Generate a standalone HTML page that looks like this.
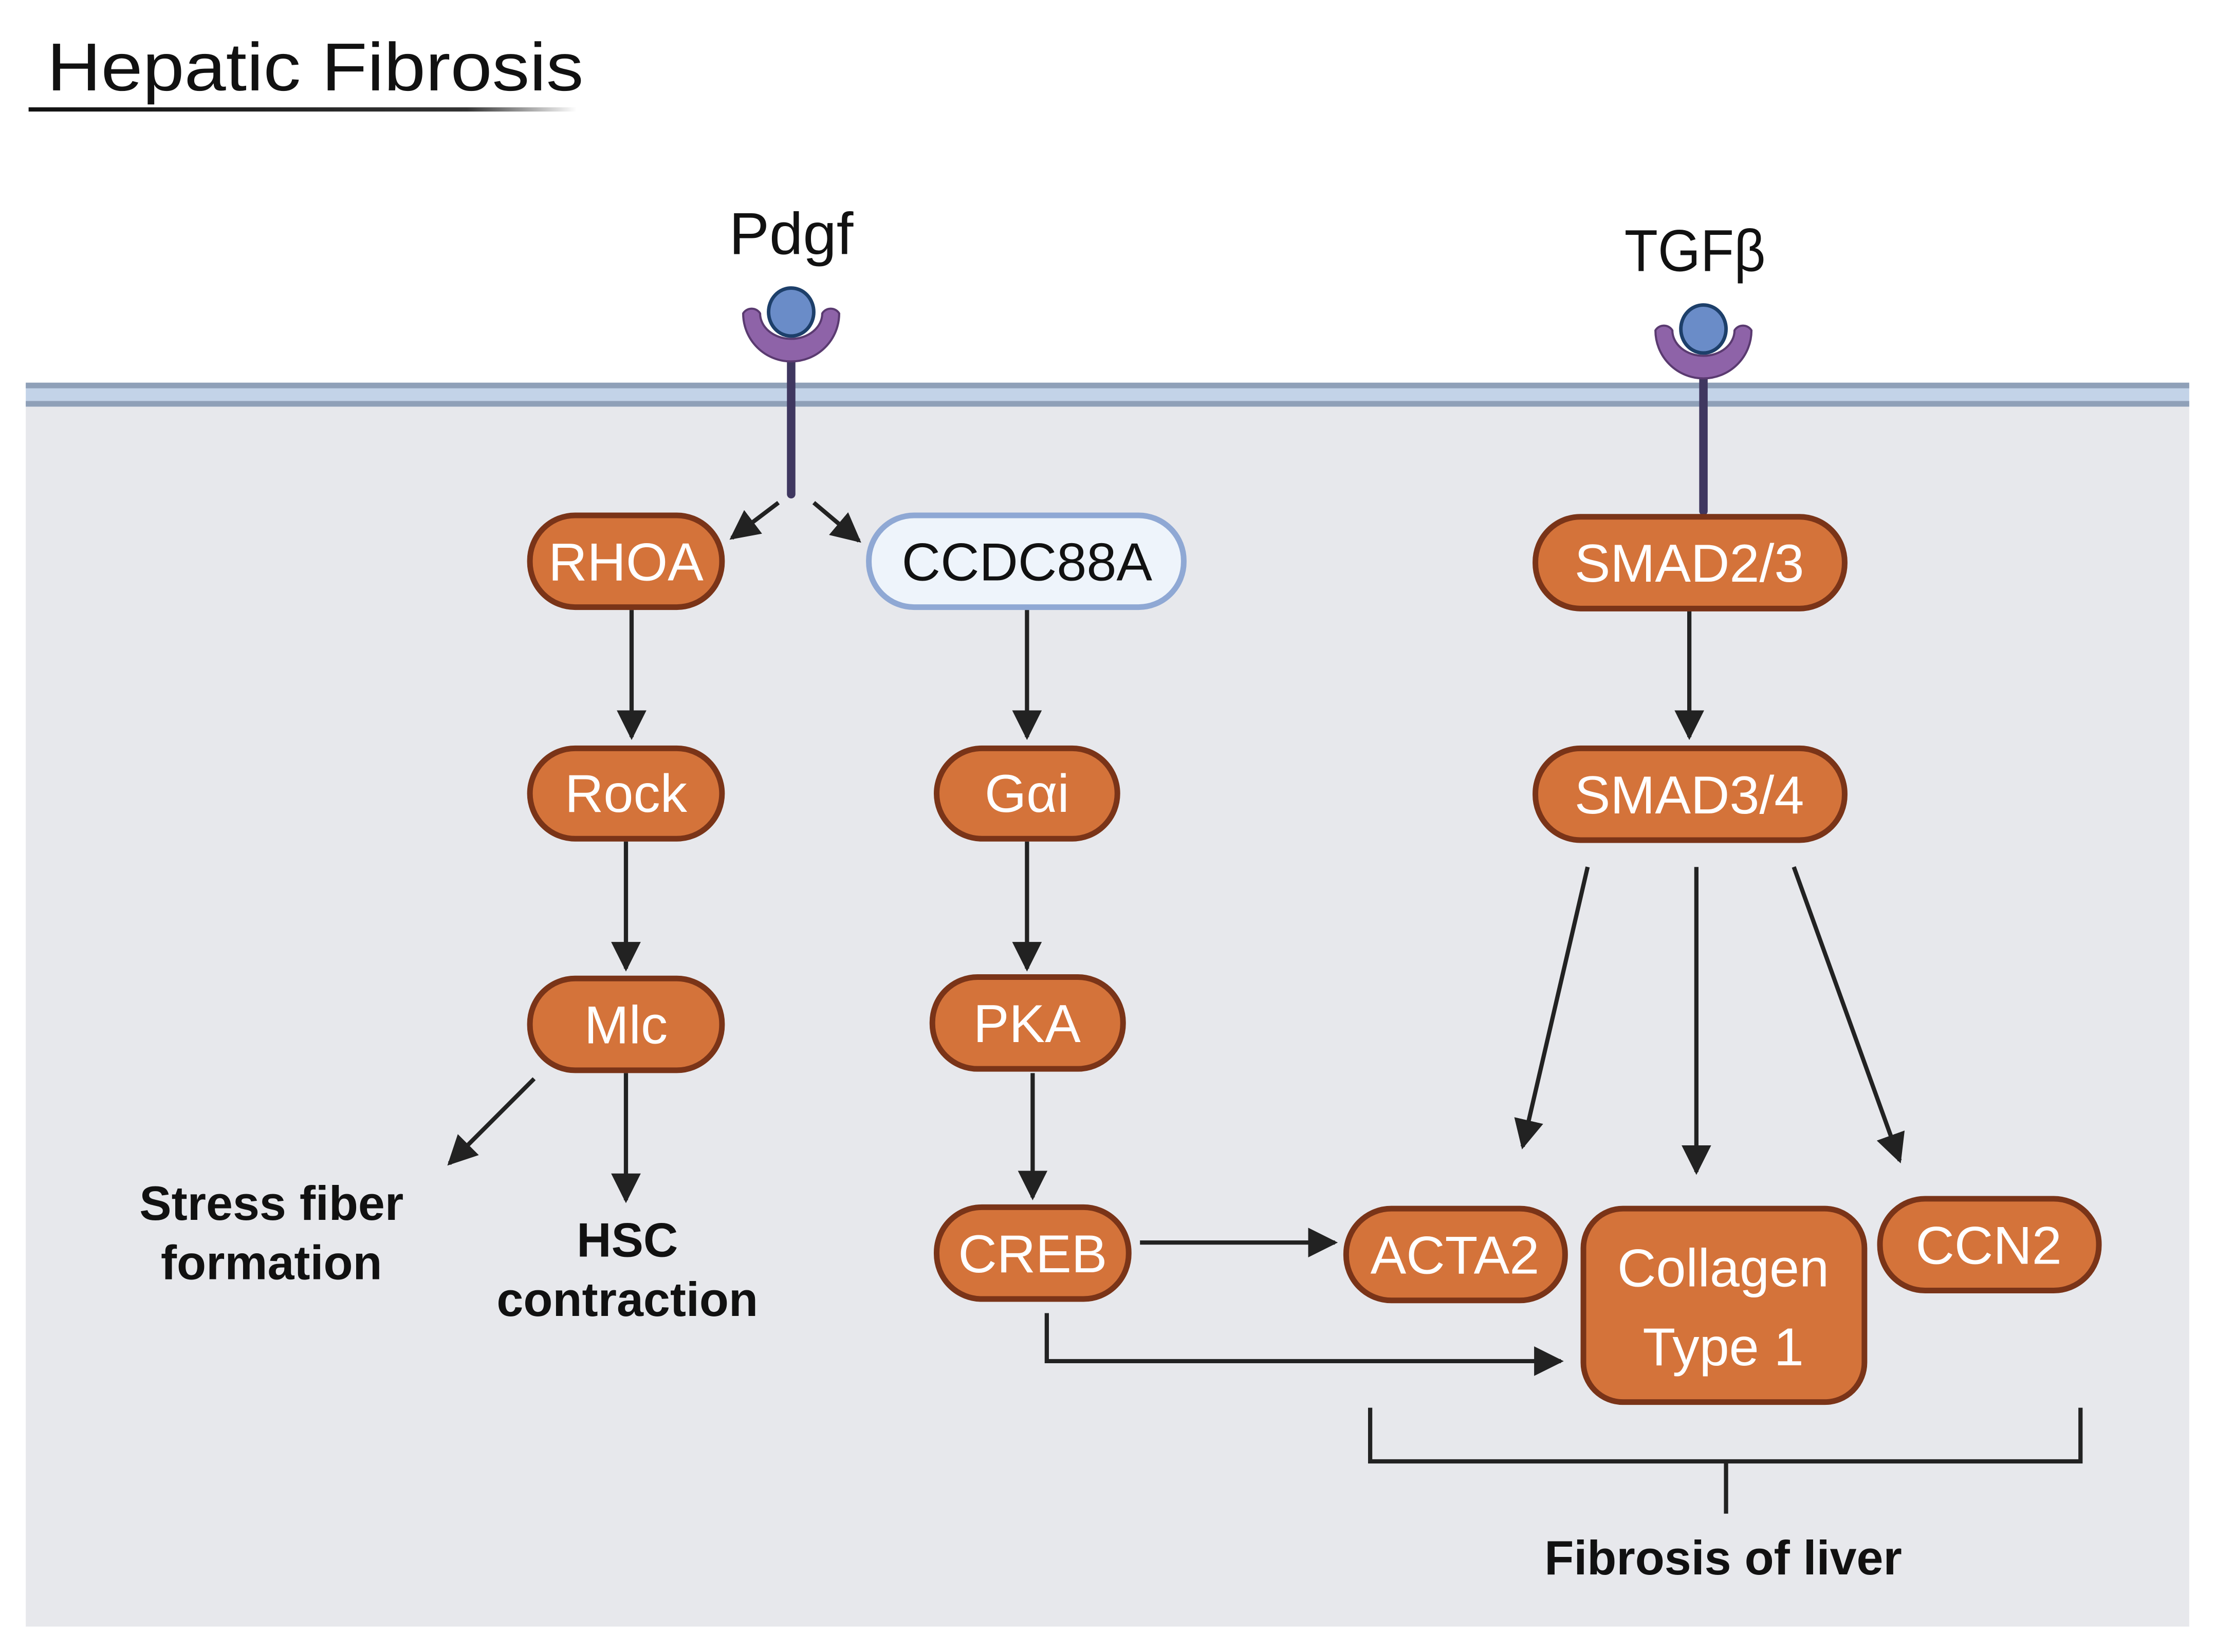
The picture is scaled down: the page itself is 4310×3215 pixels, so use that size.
<!DOCTYPE html>
<html><head><meta charset="utf-8"><style>html,body{margin:0;padding:0;background:#fff}svg{display:block}</style></head><body>
<svg width="4310" height="3215" viewBox="0 0 1568 1170" xmlns="http://www.w3.org/2000/svg" font-family="Liberation Sans, sans-serif">
<defs>
<marker id="b" viewBox="0 0 10 10" refX="9" refY="5" markerWidth="7" markerHeight="7" orient="auto"><path d="M0,0 L10,5 L0,10 z" fill="#222"/></marker>
<linearGradient id="g" x1="0" x2="1"><stop offset="0" stop-color="#111"/><stop offset="0.8" stop-color="#333"/><stop offset="1" stop-color="#fff"/></linearGradient>
</defs>
<rect width="1568" height="1170" fill="#fff"/>
<rect x="18" y="285" width="1532" height="867" fill="#e7e8ec"/>
<rect x="18" y="272" width="1532" height="16" fill="#c3d3e8"/>
<rect x="18" y="271" width="1532" height="4" fill="#8fa0b8"/>
<rect x="18" y="284" width="1532" height="4" fill="#8fa0b8"/>
<text x="33" y="64" font-size="48" fill="#111" textLength="380" lengthAdjust="spacingAndGlyphs">Hepatic Fibrosis</text>
<rect x="20" y="76" width="388" height="3" fill="url(#g)"/>
<text x="560" y="180" font-size="42" text-anchor="middle" fill="#111" textLength="88" lengthAdjust="spacingAndGlyphs">Pdgf</text>
<text x="1200" y="192" font-size="42" text-anchor="middle" fill="#111" textLength="100" lengthAdjust="spacingAndGlyphs">TGFβ</text>
<g stroke="#3f3760" stroke-width="6" stroke-linecap="round"><line x1="560" y1="255" x2="560" y2="350"/><line x1="1206" y1="265" x2="1206" y2="362"/></g>
<g fill="#8e63a8" stroke="#5a3a70" stroke-width="1.5">
<path d="M526,222 a7,7 0 0 1 12,0 a22,18 0 0 0 44,0 a7,7 0 0 1 12,0 a34,34 0 0 1 -68,0 z"/>
<path d="M1172,234 a7,7 0 0 1 12,0 a22,18 0 0 0 44,0 a7,7 0 0 1 12,0 a34,34 0 0 1 -68,0 z"/>
</g>
<g fill="#6a8cc8" stroke="#1d3f6a" stroke-width="2.5"><ellipse cx="560" cy="221" rx="16" ry="17"/><ellipse cx="1206" cy="233" rx="16" ry="17"/></g>
<g stroke="#222" stroke-width="3" fill="none" marker-end="url(#b)">
<line x1="551" y1="356" x2="518" y2="381"/>
<line x1="576" y1="356" x2="608" y2="383"/>
<line x1="447" y1="432" x2="447" y2="522"/>
<line x1="727" y1="432" x2="727" y2="522"/>
<line x1="443" y1="596" x2="443" y2="686"/>
<line x1="727" y1="596" x2="727" y2="686"/>
<line x1="378" y1="764" x2="318" y2="824"/>
<line x1="443" y1="760" x2="443" y2="850"/>
<line x1="731" y1="760" x2="731" y2="848"/>
<line x1="807" y1="880" x2="945" y2="880"/>
<polyline points="741,930 741,964 1105,964"/>
<line x1="1196" y1="432" x2="1196" y2="522"/>
<line x1="1124" y1="614" x2="1078" y2="812"/>
<line x1="1201" y1="614" x2="1201" y2="830"/>
<line x1="1270" y1="614" x2="1345" y2="822"/>
</g>
<g stroke="#7a3418" stroke-width="4" fill="#d4733a">
<rect x="375" y="365" width="136" height="65" rx="32"/>
<rect x="375" y="530" width="136" height="64" rx="32"/>
<rect x="663" y="530" width="128" height="64" rx="32"/>
<rect x="375" y="693" width="136" height="65" rx="32"/>
<rect x="660" y="692" width="135" height="65" rx="32"/>
<rect x="663" y="855" width="136" height="65" rx="32"/>
<rect x="1087" y="366" width="219" height="65" rx="32"/>
<rect x="1087" y="530" width="219" height="65" rx="32"/>
<rect x="953" y="856" width="155" height="65" rx="32"/>
<rect x="1121" y="856" width="199" height="137" rx="28"/>
<rect x="1331" y="849" width="155" height="65" rx="32"/>
</g>
<rect x="615" y="365" width="223" height="65" rx="32" fill="#eef4fb" stroke="#8fa8d4" stroke-width="4"/>
<g font-size="38" fill="#fff" text-anchor="middle">
<text x="443" y="411">RHOA</text>
<text x="443" y="575">Rock</text>
<text x="727" y="575">Gαi</text>
<text x="443" y="739">Mlc</text>
<text x="727" y="738">PKA</text>
<text x="731" y="901">CREB</text>
<text x="1196" y="412">SMAD2/3</text>
<text x="1196" y="576">SMAD3/4</text>
<text x="1030" y="902">ACTA2</text>
<text x="1220" y="911">Collagen</text>
<text x="1220" y="967">Type 1</text>
<text x="1408" y="895">CCN2</text>
</g>
<text x="727" y="411" font-size="38" fill="#111" text-anchor="middle">CCDC88A</text>
<g font-size="34" font-weight="bold" fill="#111" text-anchor="middle">
<text x="192" y="864">Stress fiber</text><text x="192" y="906">formation</text>
<text x="444" y="890">HSC</text><text x="444" y="932">contraction</text>
<text x="1220" y="1115">Fibrosis of liver</text>
</g>
<g stroke="#222" stroke-width="3" fill="none"><polyline points="970,997 970,1035 1473,1035 1473,997"/><line x1="1222" y1="1035" x2="1222" y2="1072"/></g>
</svg>
</body></html>
